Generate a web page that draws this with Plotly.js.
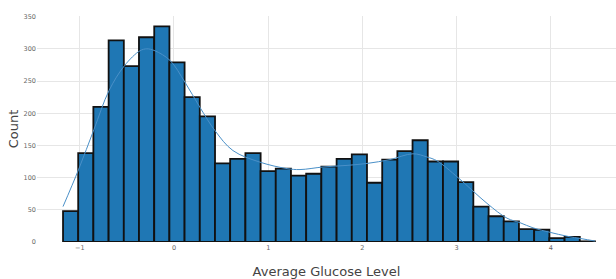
<!DOCTYPE html>
<html>
<head>
<meta charset="utf-8">
<script src="https://cdn.plot.ly/plotly-3.0.1.min.js"></script>
<style>html,body{margin:0;padding:0;background:#fff;}#chart{width:616px;height:279px;}</style>
</head>
<body>
<div id="chart"></div>
<script>
// Histogram bin centers (Average Glucose Level, standardized)
const binCenters = [-1.097, -0.936, -0.775, -0.613, -0.452, -0.291, -0.129, 0.032, 0.193, 0.355,
  0.516, 0.677, 0.839, 1.000, 1.161, 1.323, 1.484, 1.645, 1.807, 1.968,
  2.129, 2.291, 2.452, 2.613, 2.775, 2.936, 3.097, 3.259, 3.420, 3.581,
  3.743, 3.904, 4.065, 4.227, 4.388];
const binWidth = 0.1613;
const counts = [48, 138, 210, 313, 273, 318, 335, 279, 225, 195,
  122, 129, 138, 110, 114, 103, 106, 117, 129, 136,
  92, 128, 141, 158, 125, 125, 93, 55, 40, 32,
  20, 19, 6, 8, 1];
// KDE curve
const kdeX = [-1.178, -1.014, -0.849, -0.690, -0.525, -0.361, -0.287, -0.202, -0.042, 0.117,
  0.276, 0.435, 0.626, 0.913, 1.200, 1.338, 1.582, 1.837, 2.049, 2.293,
  2.537, 2.686, 2.792, 3.015, 3.323, 3.535, 3.673, 3.811, 3.992, 4.172, 4.331, 4.469];
const kdeY = [55, 112, 175, 235, 274, 297, 300, 297, 282, 248,
  209, 173, 142, 124, 114, 112.5, 116.5, 119, 122, 128,
  137, 132, 126, 100, 60, 37, 30, 22, 15, 9, 5, 1.5];
const xTicks = [-1, 0, 1, 2, 3, 4];
const yTicks = [0, 50, 100, 150, 200, 250, 300, 350];

const bars = {
  type: 'bar', x: binCenters, y: counts, width: binWidth,
  marker: {color: '#1f77b4', line: {color: '#111111', width: 1.8}},
  hoverinfo: 'x+y', showlegend: false
};
const kde = {
  type: 'scatter', mode: 'lines', x: kdeX, y: kdeY,
  line: {color: '#4a90c8', width: 1, shape: 'spline'},
  showlegend: false
};
const tickFont = {family: 'DejaVu Sans', size: 6.5, color: '#666'};
const layout = {
  width: 616, height: 279,
  margin: {l: 37, r: 0, t: 16, b: 37},
  paper_bgcolor: '#fff', plot_bgcolor: '#fff',
  bargap: 0,
  font: {family: 'DejaVu Sans', color: '#444'},
  xaxis: {
    range: [-1.454, 4.692], tickvals: xTicks, ticktext: xTicks.map(v => v < 0 ? '\u2212' + Math.abs(v) : String(v)),
    showgrid: true, gridcolor: '#e6e6e6', gridwidth: 1, zeroline: false, showline: false,
    ticks: '', tickfont: tickFont, automargin: false,
    title: {text: 'Average Glucose Level', font: {family: 'DejaVu Sans', size: 13, color: '#444'}, standoff: 22}
  },
  yaxis: {
    range: [0, 351], tickvals: yTicks,
    showgrid: true, gridcolor: '#e6e6e6', gridwidth: 1, zeroline: false, showline: false,
    ticks: '', tickfont: tickFont, automargin: false,
    title: {text: 'Count', font: {family: 'DejaVu Sans', size: 13, color: '#444'}, standoff: 2}
  }
};
Plotly.newPlot('chart', [bars, kde], layout, {displayModeBar: false, staticPlot: true});
</script>
</body>
</html>
